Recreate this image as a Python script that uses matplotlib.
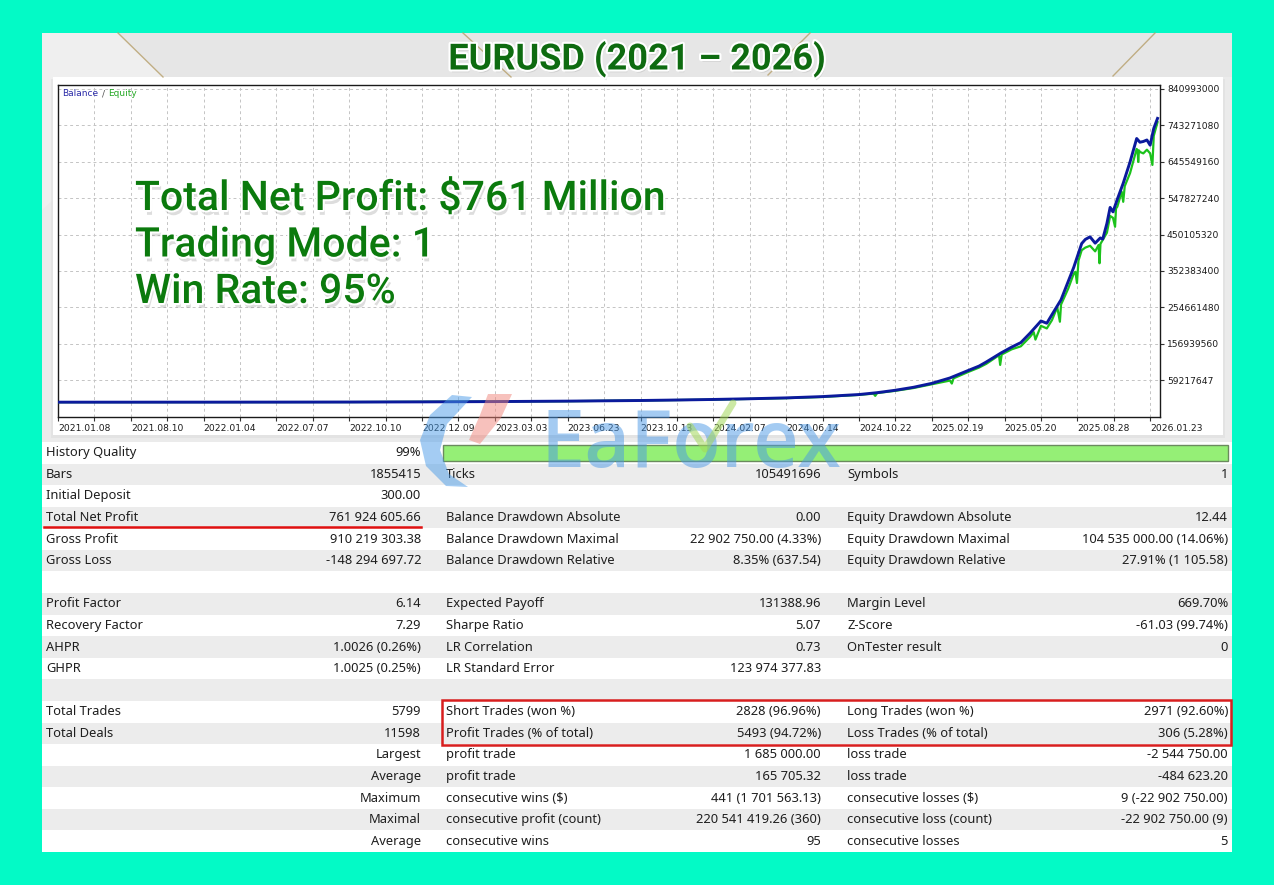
import matplotlib
matplotlib.use("Agg")
import matplotlib.pyplot as plt
import matplotlib.patheffects as pe
from matplotlib.patches import Rectangle, Polygon
from matplotlib.ticker import MultipleLocator
import numpy as np

title = "EURUSD (2021 – 2026)"
headline = ["Total Net Profit: $761 Million", "Trading Mode: 1", "Win Rate: 95%"]

date_labels = ["2021.01.08", "2021.08.10", "2022.01.04", "2022.07.07", "2022.10.10",
               "2022.12.09", "2023.03.03", "2023.06.23", "2023.10.13", "2024.02.07",
               "2024.06.14", "2024.10.22", "2025.02.19", "2025.05.20", "2025.08.28",
               "2026.01.23"]
y_ticks = [59217647, 156939560, 254661480, 352383400, 450105320,
           547827240, 645549160, 743271080, 840993000]

# balance curve (trade number, million USD)
bal_trade = [0, 384, 768, 1152, 1536, 1920, 2304, 2688, 3072, 3264, 3456, 3648, 3840,
             4032, 4224, 4320, 4416, 4512, 4608, 4704, 4800, 4858, 4896, 4973, 5030,
             5078, 5126, 5184, 5215, 5242, 5290, 5357, 5399, 5418, 5443, 5470, 5497,
             5510, 5532, 5549, 5564, 5587, 5618, 5654, 5689, 5706, 5724, 5743, 5760,
             5779, 5799]
bal_musd = [0.0003, 0.01, 0.06, 0.15, 0.35, 0.8, 1.6, 2.8, 4.5, 5.8, 7.3, 9.2, 11.5,
            15, 20.5, 25.5, 32, 40, 50.5, 65, 85, 97, 108, 132, 148,
            160, 185, 218, 212, 235, 275, 362, 426, 437, 444, 427, 441,
            438, 480, 523, 511, 545, 588, 645, 708, 698, 700, 704, 690,
            735, 762]

# equity curve (trade number, million USD)
eq_trade = [0, 1536, 2688, 3456, 3840, 4032, 4224, 4301, 4310, 4320, 4416, 4512, 4608,
            4704, 4714, 4723, 4800, 4858, 4896, 4963, 4969, 4977, 5030, 5078, 5126,
            5146, 5155, 5184, 5215, 5242, 5270, 5284, 5290, 5328, 5357, 5366, 5374,
            5382, 5399, 5418, 5443, 5470, 5488, 5493, 5498, 5532, 5549, 5564, 5575,
            5580, 5587, 5610, 5618, 5626, 5654, 5689, 5694, 5697, 5701, 5706, 5724,
            5743, 5760, 5772, 5779, 5799]
eq_musd = [0, 0.3, 2.6, 6.8, 10.8, 14, 19.5, 23, 17, 24.5, 30.5, 38, 48,
           58, 50, 64, 81, 93, 103, 126, 100, 128, 142, 150, 175,
           188, 168, 205, 198, 220, 255, 216, 262, 305, 345, 350, 320,
           380, 408, 415, 420, 405, 422, 373, 425, 455, 500, 495, 471,
           520, 525, 565, 538, 580, 615, 680, 676, 645, 676, 672, 668,
           678, 668, 637, 715, 752]

history_quality = 99

col1_labels = ["History Quality", "Bars", "Initial Deposit", "Total Net Profit", "Gross Profit",
               "Gross Loss", "", "Profit Factor", "Recovery Factor", "AHPR", "GHPR", "",
               "Total Trades", "Total Deals", "Largest", "Average", "Maximum", "Maximal", "Average"]
col1_values = ["99%", "1855415", "300.00", "761 924 605.66", "910 219 303.38",
               "-148 294 697.72", "", "6.14", "7.29", "1.0026 (0.26%)", "1.0025 (0.25%)", "",
               "5799", "11598", "", "", "", "", ""]
col2_labels = ["", "Ticks", "", "Balance Drawdown Absolute", "Balance Drawdown Maximal",
               "Balance Drawdown Relative", "", "Expected Payoff", "Sharpe Ratio", "LR Correlation",
               "LR Standard Error", "", "Short Trades (won %)", "Profit Trades (% of total)",
               "profit trade", "profit trade", "consecutive wins ($)", "consecutive profit (count)",
               "consecutive wins"]
col2_values = ["", "105491696", "", "0.00", "22 902 750.00 (4.33%)", "8.35% (637.54)", "",
               "131388.96", "5.07", "0.73", "123 974 377.83", "", "2828 (96.96%)", "5493 (94.72%)",
               "1 685 000.00", "165 705.32", "441 (1 701 563.13)", "220 541 419.26 (360)", "95"]
col3_labels = ["", "Symbols", "", "Equity Drawdown Absolute", "Equity Drawdown Maximal",
               "Equity Drawdown Relative", "", "Margin Level", "Z-Score", "OnTester result", "", "",
               "Long Trades (won %)", "Loss Trades (% of total)", "loss trade", "loss trade",
               "consecutive losses ($)", "consecutive loss (count)", "consecutive losses"]
col3_values = ["", "1", "", "12.44", "104 535 000.00 (14.06%)", "27.91% (1 105.58)", "",
               "669.70%", "-61.03 (99.74%)", "0", "", "", "2971 (92.60%)", "306 (5.28%)",
               "-2 544 750.00", "-484 623.20", "9 (-22 902 750.00)", "-22 902 750.00 (9)", "5"]

# ---- figure ----
W, H = 1274, 885
fig = plt.figure(figsize=(W / 100, H / 100), dpi=100)
fig.patch.set_facecolor("#03fac6")

# background layer (pixel coordinates, y down)
bg = fig.add_axes([0, 0, 1, 1])
bg.set_xlim(0, W)
bg.set_ylim(H, 0)
bg.axis("off")
bg.add_patch(Rectangle((42, 33), 1190, 819, color="#ebebeb", lw=0))
bg.add_patch(Rectangle((42, 33), 1190, 44, color="#e6e6e6", lw=0))
bg.add_patch(Polygon([(42, 33), (118, 33), (163, 77), (53, 200), (42, 210)], closed=True,
                     color="#efefef", lw=0))
for (x0, y0), (x1, y1) in [((118, 33), (163, 77)), ((463, 33), (511, 77)),
                           ((810, 33), (768, 75)), ((1155, 33), (1113, 76))]:
    bg.plot([x0, x1], [y0, y1], color="#b39a62", lw=1.0, alpha=0.75)
bg.add_patch(Rectangle((51, 79), 1174, 359, color="#dddddd", lw=0, alpha=0.5))
bg.add_patch(Rectangle((53, 77), 1170, 358, color="white", lw=0))
bg.add_patch(Rectangle((42, 442), 1190, 410, color="white", lw=0))

# ---- balance / equity chart ----
ax = fig.add_axes([57.5 / W, 1 - 416.7 / H, (1160 - 57.5) / W, (416.7 - 84.5) / H])
ax.set_facecolor("white")
ax.plot(eq_trade, np.array(eq_musd) * 1e6, color="#1cc21c", lw=1.6, zorder=3)
ax.plot(bal_trade, np.array(bal_musd) * 1e6, color="#0b1a9c", lw=2.1, zorder=4)
ax.set_xlim(-3, 5812)
ax.set_ylim(-39e6, 853e6)

ax.set_xticks(np.arange(len(date_labels)) * 384, date_labels)
ax.xaxis.set_minor_locator(MultipleLocator(192))
for t in ax.get_xticklabels():
    t.set_ha("left")
ax.yaxis.tick_right()
ax.set_yticks(y_ticks, [str(v) for v in y_ticks])
ax.tick_params(axis="both", which="both", direction="out", length=3, width=0.8,
               color="#333333", labelsize=6.6, labelcolor="#1a1a1a", pad=2)
ax.grid(which="both", color="#c4c4c4", linestyle=(0, (3, 3)), lw=0.7)
for s in ax.spines.values():
    s.set_color("#1a1a1a")
    s.set_linewidth(1.0)

# ---- overlay layer ----
ov = fig.add_axes([0, 0, 1, 1])
ov.set_xlim(0, W)
ov.set_ylim(H, 0)
ov.axis("off")
ov.patch.set_alpha(0)

ov.text(62, 94, "Balance", color="#2a2aa8", fontsize=6.5, va="center")
ov.text(101.5, 94, "/", color="#555555", fontsize=6.5, va="center")
ov.text(108, 94, "Equity", color="#25a825", fontsize=6.5, va="center")

ov.text(637, 69.5, title, ha="center", va="baseline", fontsize=26, fontweight="bold",
        family="Roboto", color="#0e6b10",
        path_effects=[pe.SimplePatchShadow(offset=(1, -2), shadow_rgbFace="#9a9a9a", alpha=0.3),
                      pe.Stroke(linewidth=3, foreground="white"), pe.Normal()])

for i, line in enumerate(headline):
    ov.text(135, 210 + i * 46.5, line, ha="left", va="baseline", fontsize=29.5,
            fontweight="medium", family="Roboto", color="#0b7a0d",
            path_effects=[pe.SimplePatchShadow(offset=(1.5, -3.5), shadow_rgbFace="#909090", alpha=0.3),
                          pe.Stroke(linewidth=3, foreground="white"), pe.Normal()])

# table
row_top, row_h = 442, 21.58
tfont = dict(fontsize=9.3, family="Noto Sans", color="#1e1e1e", va="center")
for i in range(len(col1_labels)):
    yc = row_top + row_h * (i + 0.5)
    if i % 2 == 1:
        ov.add_patch(Rectangle((42, row_top + row_h * i), 1190, row_h, color="#ececec", lw=0, zorder=1))
    if col1_labels[i] and not col1_values[i]:
        ov.text(421, yc, col1_labels[i], ha="right", zorder=3, **tfont)
    else:
        ov.text(46, yc, col1_labels[i], ha="left", zorder=3, **tfont)
    ov.text(421, yc, col1_values[i], ha="right", zorder=3, **tfont)
    ov.text(446, yc, col2_labels[i], ha="left", zorder=3, **tfont)
    ov.text(821, yc, col2_values[i], ha="right", zorder=3, **tfont)
    ov.text(847, yc, col3_labels[i], ha="left", zorder=3, **tfont)
    ov.text(1228, yc, col3_values[i], ha="right", zorder=3, **tfont)

# history quality bar
bar_x0, bar_x1 = 443, 1228
ov.add_patch(Rectangle((bar_x0, 445), (bar_x1 - bar_x0) * min(1, history_quality / 99), 15.5,
                       facecolor="#95ef76", edgecolor="none", zorder=2))
ov.add_patch(Rectangle((bar_x0, 445), bar_x1 - bar_x0, 15.5, facecolor="none",
                       edgecolor="#6b8a5e", lw=1, zorder=2))

# highlights
ov.plot([44, 421], [526.5, 526.5], color="#e01010", lw=1.8, zorder=4)
ov.add_patch(Rectangle((441.5, 700), 789, 44.5, facecolor="none", edgecolor="#d81e1e",
                       lw=1.8, zorder=4))

# watermark
ov.add_patch(Polygon([(452, 395), (472, 397), (447, 424), (440, 450), (449, 474), (468, 487),
                      (446, 486), (426, 466), (420, 440), (430, 415)],
                     closed=True, facecolor="#4a9be8", edgecolor="none", alpha=0.5, zorder=5))
ov.add_patch(Polygon([(488, 394), (512, 394), (501, 418), (480, 444), (469, 440), (480, 415)],
                     closed=True, facecolor="#f0857a", edgecolor="none", alpha=0.5, zorder=5))
ov.text(540, 467, "EaForex", ha="left", va="baseline", fontsize=57, family="Open Sans",
        fontweight="semibold", color="#4b98e6", alpha=0.5, zorder=5)
ov.plot([690, 705, 733], [426, 449, 403], color="#a3d85a", lw=5, alpha=0.55,
        solid_capstyle="round", zorder=6)

fig.savefig("out.png", dpi=100, facecolor=fig.get_facecolor())
